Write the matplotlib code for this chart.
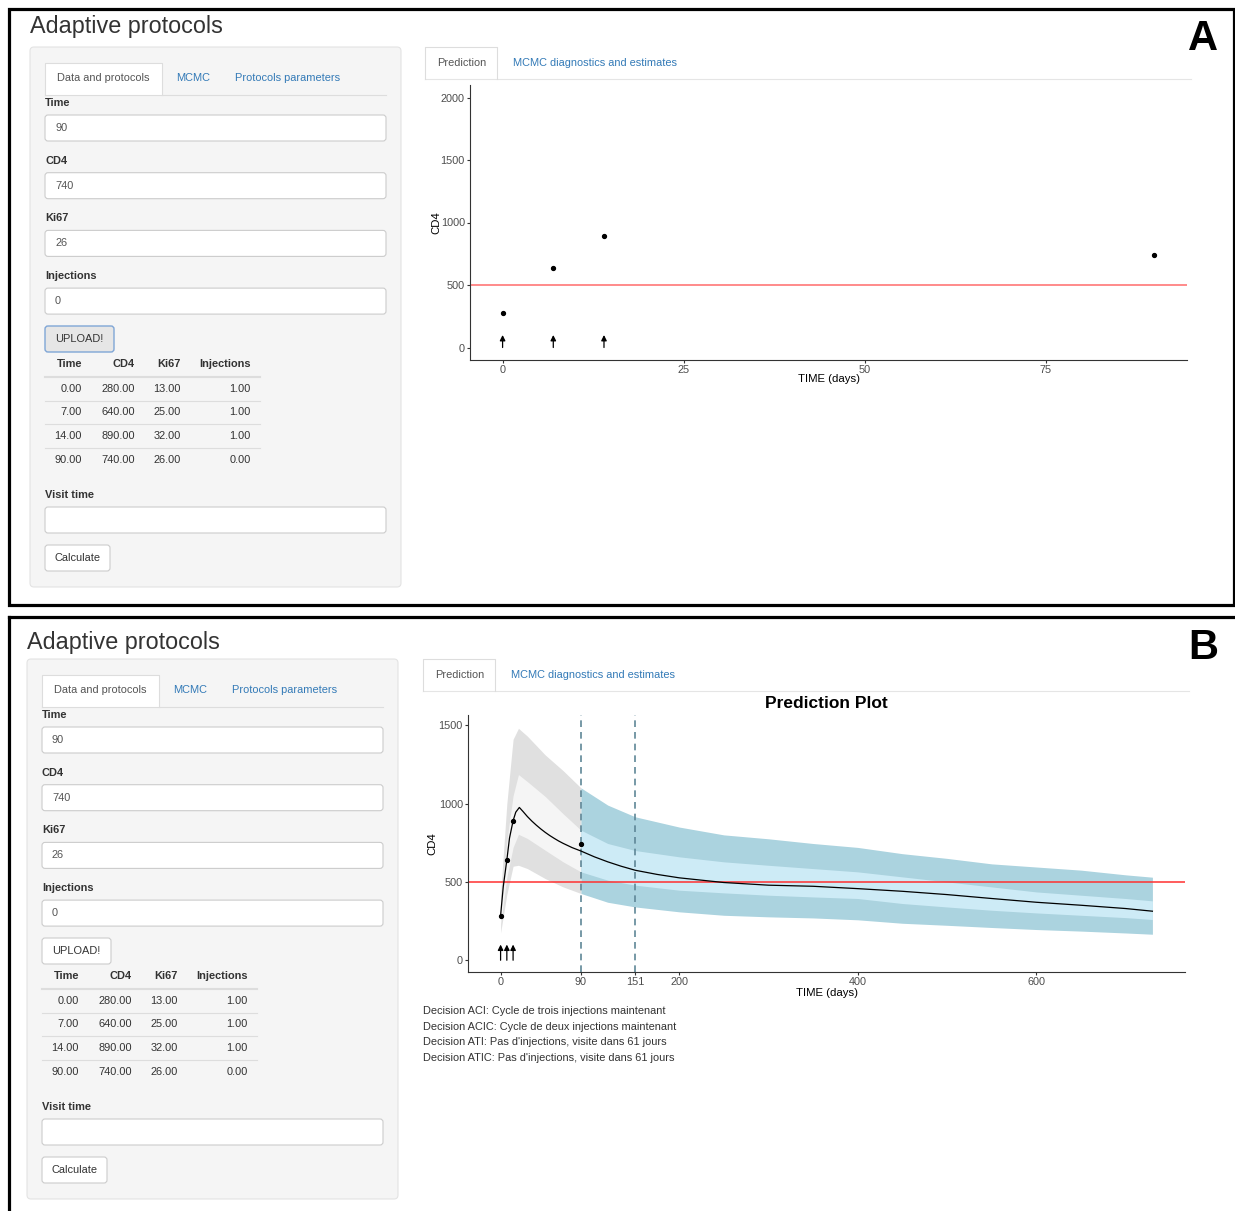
import matplotlib
matplotlib.use("Agg")
import matplotlib.pyplot as plt
from matplotlib.patches import FancyBboxPatch, Rectangle
import numpy as np

plt.rcParams["font.family"] = ["Liberation Sans", "DejaVu Sans"]

W, H = 1235, 1211

# patient data (table in the sidebar and points on the plots)
TIME = [0, 7, 14, 90]
CD4 = [280, 640, 890, 740]
KI67 = [13, 25, 32, 26]
INJECTIONS = [1, 1, 1, 0]

INPUT_LABELS = ["Time", "CD4", "Ki67", "Injections"]
INPUT_VALUES = ["90", "740", "26", "0"]

# prediction bands
BAND_T = [0, 7, 14, 20, 30, 50, 70, 90, 120, 151, 200, 250, 300, 350, 400, 450, 500, 550, 600, 650, 700, 730]
OUTER_HI = [420, 1000, 1410, 1480, 1430, 1310, 1210, 1100, 990, 915, 850, 800, 775, 745, 720, 680, 650, 615, 595, 575, 545, 530]
OUTER_LO = [175, 420, 600, 606, 585, 521, 468, 426, 370, 340, 309, 287, 277, 270, 258, 236, 223, 209, 196, 186, 174, 166]
INNER_HI = [330, 760, 1050, 1185, 1140, 1045, 935, 830, 745, 700, 660, 628, 606, 585, 564, 532, 500, 468, 436, 415, 394, 379]
INNER_LO = [230, 530, 720, 804, 777, 702, 628, 564, 511, 479, 447, 430, 415, 404, 394, 362, 340, 319, 302, 287, 272, 260]

MEAN_T = [0, 3, 7, 10, 14, 17, 21, 25, 30, 35, 40, 45, 50, 55, 60, 65, 70, 80, 90, 105, 120, 135, 151,
          175, 200, 250, 300, 350, 400, 450, 500, 550, 600, 650, 700, 730]
MEAN_CD4 = [285, 470, 640, 780, 890, 945, 975, 950, 917, 888, 862, 838, 816, 796, 778, 761, 746, 719, 697,
            660, 628, 600, 574, 548, 526, 496, 479, 472, 457, 440, 419, 394, 370, 351, 330, 313]

VISIT_TIMES = [90, 151]
THRESHOLD = 500

DECISIONS = [
    "Decision ACI: Cycle de trois injections maintenant",
    "Decision ACIC: Cycle de deux injections maintenant",
    "Decision ATI: Pas d'injections, visite dans 61 jours",
    "Decision ATIC: Pas d'injections, visite dans 61 jours",
]

LINK = "#337ab7"
TXT = "#333333"


def px_axes(fig, x0, y0, x1, y1):
    return fig.add_axes([x0 / W, 1 - y1 / H, (x1 - x0) / W, (y1 - y0) / H])


def box(ax, x0, y0, x1, y1, fc, ec, r=3, lw=0.8):
    ax.add_patch(FancyBboxPatch((x0, y0), x1 - x0, y1 - y0,
                                boxstyle=f"round,pad=0,rounding_size={r}",
                                fc=fc, ec=ec, lw=lw))


def draw_sidebar(ax, dx, dy, focused_upload):
    X = lambda v: v + dx
    Y = lambda v: v + dy
    box(ax, X(30), Y(47), X(401), Y(587), "#f5f5f5", "#e3e3e3", r=4)

    # tabs
    ax.plot([X(45), X(386)], [Y(95), Y(95)], color="#dddddd", lw=0.8)
    ax.add_patch(Rectangle((X(45), Y(63)), 117, 33, fc="white", ec="none"))
    ax.plot([X(45), X(45), X(162), X(162)], [Y(95), Y(63), Y(63), Y(95)], color="#dddddd", lw=0.8)
    ax.text(X(103.5), Y(78), "Data and protocols", ha="center", va="center", fontsize=7.9, color="#555555")
    ax.text(X(193), Y(78), "MCMC", ha="center", va="center", fontsize=7.9, color=LINK)
    ax.text(X(288), Y(78), "Protocols parameters", ha="center", va="center", fontsize=7.9, color=LINK)

    # inputs
    for i, (lab, val) in enumerate(zip(INPUT_LABELS, INPUT_VALUES)):
        ly = 103 + i * 57.7
        ax.text(X(45), Y(ly), lab, ha="left", va="center", fontsize=7.9, fontweight="bold", color=TXT)
        by = ly + 12
        box(ax, X(45), Y(by), X(386), Y(by + 26), "white", "#cccccc")
        ax.text(X(55), Y(by + 13), val, ha="left", va="center", fontsize=7.9, color="#555555")

    # upload button
    if focused_upload:
        box(ax, X(45), Y(326), X(114), Y(352), "#e6e6e6", "#7fa6d6", lw=1.0)
    else:
        box(ax, X(45), Y(326), X(114), Y(352), "white", "#cccccc")
    ax.text(X(79.5), Y(339), "UPLOAD!", ha="center", va="center", fontsize=7.9, color=TXT)

    # data table
    right_edges = [82, 135, 181, 251]
    headers = ["Time", "CD4", "Ki67", "Injections"]
    for xr, h in zip(right_edges, headers):
        ax.text(X(xr), Y(364), h, ha="right", va="center", fontsize=7.9, fontweight="bold", color=TXT)
    ax.plot([X(45), X(260)], [Y(377), Y(377)], color="#dddddd", lw=1.5)
    cols = [TIME, CD4, KI67, INJECTIONS]
    for r in range(len(TIME)):
        ry = 388.5 + r * 23.7
        for xr, col in zip(right_edges, cols):
            ax.text(X(xr), Y(ry), f"{col[r]:.2f}", ha="right", va="center", fontsize=7.9, color=TXT)
        if r < len(TIME) - 1:
            ax.plot([X(45), X(260)], [Y(ry + 12.2), Y(ry + 12.2)], color="#dddddd", lw=0.8)

    ax.text(X(45), Y(495), "Visit time", ha="left", va="center", fontsize=7.9, fontweight="bold", color=TXT)
    box(ax, X(45), Y(507), X(386), Y(533), "white", "#cccccc")
    box(ax, X(45), Y(545), X(110), Y(571), "white", "#cccccc")
    ax.text(X(77.5), Y(558), "Calculate", ha="center", va="center", fontsize=7.9, color=TXT)


def draw_main_tabs(ax, dx, dy):
    X = lambda v: v + dx
    Y = lambda v: v + dy
    ax.plot([X(425), X(1191)], [Y(79), Y(79)], color="#e5e5e5", lw=0.8)
    ax.add_patch(Rectangle((X(425), Y(47)), 72, 33, fc="white", ec="none"))
    ax.plot([X(425), X(425), X(497), X(497)], [Y(79), Y(47), Y(47), Y(79)], color="#dddddd", lw=0.8)
    ax.text(X(461.5), Y(63), "Prediction", ha="center", va="center", fontsize=7.9, color="#555555")
    ax.text(X(513), Y(63), "MCMC diagnostics and estimates", ha="left", va="center", fontsize=7.9, color=LINK)


def style_axes(ax):
    for side in ["top", "right"]:
        ax.spines[side].set_visible(False)
    for side in ["left", "bottom"]:
        ax.spines[side].set_color("#333333")
        ax.spines[side].set_linewidth(0.8)
    ax.tick_params(length=2.2, width=0.8, color="#333333", labelcolor="#4d4d4d", labelsize=7.8, pad=1.5)


def draw_arrows(ax):
    for t, inj in zip(TIME, INJECTIONS):
        if inj:
            ax.annotate("", xy=(t, 100), xytext=(t, 0),
                        arrowprops=dict(arrowstyle="-|>", color="black", lw=0.9, mutation_scale=8,
                                        shrinkA=0, shrinkB=0))


fig = plt.figure(figsize=(W / 100, H / 100), dpi=100)
bg = fig.add_axes([0, 0, 1, 1])
bg.set_xlim(0, W)
bg.set_ylim(H, 0)
bg.axis("off")

# panel frames
bg.add_patch(Rectangle((9, 9), 1224.5, 596, fc="none", ec="black", lw=2.3))
bg.plot([9, 9], [617, H + 5], color="black", lw=2.3)
bg.plot([9, W + 5], [617, 617], color="black", lw=2.3)

# panel A
bg.text(30, 27, "Adaptive protocols", ha="left", va="center", fontsize=16.8, color=TXT)
bg.text(1203, 39, "A", ha="center", va="center", fontsize=30, fontweight="bold", color="black")
draw_sidebar(bg, 0, 0, True)
draw_main_tabs(bg, 0, 0)

# panel B
bg.text(27, 642, "Adaptive protocols", ha="left", va="center", fontsize=16.8, color=TXT)
bg.text(1203, 648, "B", ha="center", va="center", fontsize=30, fontweight="bold", color="black")
draw_sidebar(bg, -3, 612, False)
draw_main_tabs(bg, -2, 612)
for i, line in enumerate(DECISIONS):
    bg.text(423, 1011 + i * 15.6, line, ha="left", va="center", fontsize=7.9, color=TXT)

# plot A
axA = px_axes(fig, 470, 85, 1187, 360)
axA.axhline(THRESHOLD, color="#ff8a8a", lw=1.4)
axA.plot(TIME, CD4, "o", color="black", ms=2.8)
draw_arrows(axA)
axA.set_xlim(-4.5, 94.5)
axA.set_ylim(-100, 2100)
axA.set_xticks([0, 25, 50, 75])
axA.set_yticks([0, 500, 1000, 1500, 2000])
style_axes(axA)
axA.set_xlabel("TIME (days)", fontsize=8.2)
axA.set_ylabel("CD4", fontsize=8.2)
axA.xaxis.set_label_coords(0.5, -0.052)
axA.yaxis.set_label_coords(-0.040, 0.5)

# plot B
bt = np.array(BAND_T)
past = bt <= VISIT_TIMES[0]
future = bt >= VISIT_TIMES[0]
ohi, olo = np.array(OUTER_HI), np.array(OUTER_LO)
ihi, ilo = np.array(INNER_HI), np.array(INNER_LO)

axB = px_axes(fig, 468, 715, 1185, 972)
axB.fill_between(bt[past], olo[past], ohi[past], color="#e0e0e0", lw=0)
axB.fill_between(bt[past], ilo[past], ihi[past], color="#f5f5f5", lw=0)
axB.fill_between(bt[future], olo[future], ohi[future], color="#abd3df", lw=0)
axB.fill_between(bt[future], ilo[future], ihi[future], color="#cdebf6", lw=0)
for v in VISIT_TIMES:
    axB.axvline(v, color="#5f8797", lw=1.2, dashes=(4, 3))
axB.axhline(THRESHOLD, color="#ff3030", lw=1.1)
axB.plot(MEAN_T, MEAN_CD4, color="black", lw=0.9)
axB.plot(TIME, CD4, "o", color="black", ms=2.8)
draw_arrows(axB)
axB.set_xlim(-36.5, 766.5)
axB.set_ylim(-75, 1565)
axB.set_xticks([0] + VISIT_TIMES + [200, 400, 600])
axB.set_yticks([0, 500, 1000, 1500])
style_axes(axB)
axB.set_title("Prediction Plot", fontsize=12.5, fontweight="bold", pad=5)
axB.set_xlabel("TIME (days)", fontsize=8.2)
axB.set_ylabel("CD4", fontsize=8.2)
axB.xaxis.set_label_coords(0.5, -0.062)
axB.yaxis.set_label_coords(-0.043, 0.5)

fig.savefig("out.png", dpi=100)
